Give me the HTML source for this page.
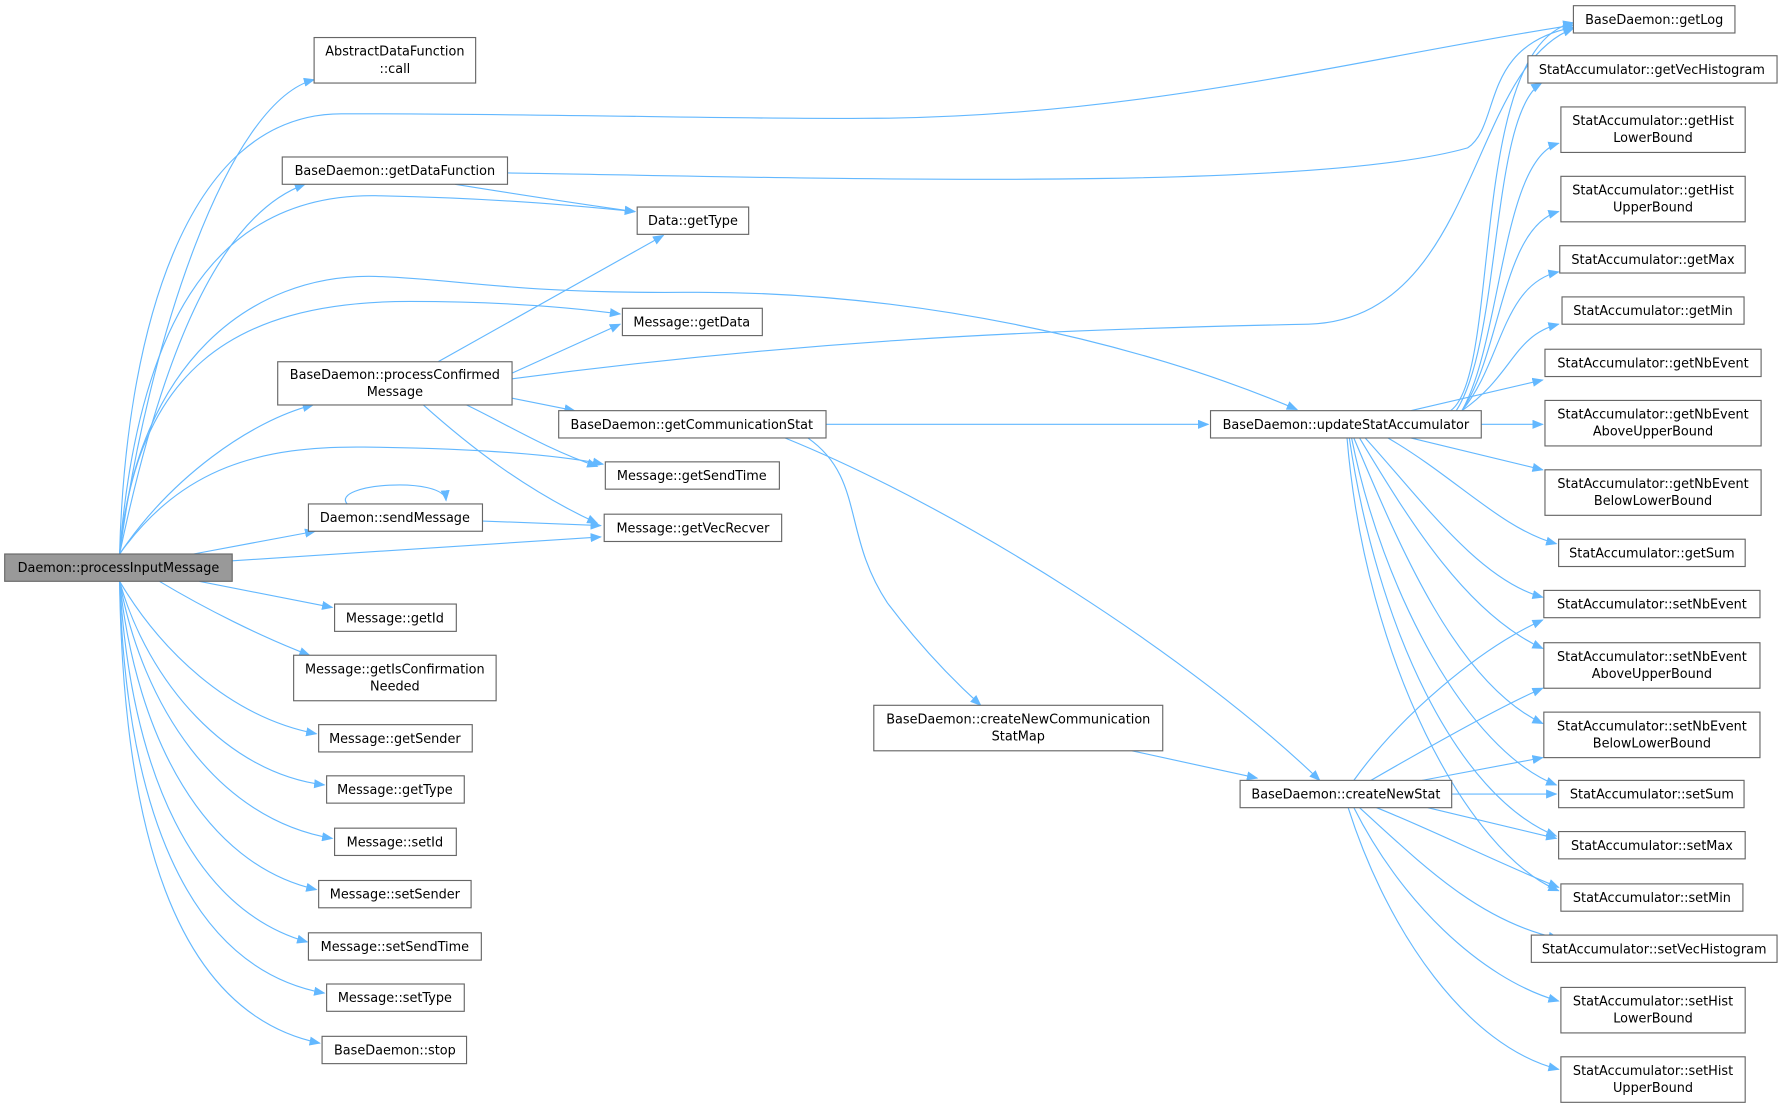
<!DOCTYPE html>
<html><head><meta charset="utf-8"><style>
html,body{margin:0;padding:0;background:#fff;}
svg{display:block;}
text{font-family:"DejaVu Sans","Liberation Sans",sans-serif;font-size:11.3px;fill:#000;text-anchor:middle;}
.n{fill:#fff;stroke:#666;stroke-width:1;}
.e{fill:none;stroke:#63b8ff;stroke-width:1;marker-end:url(#a);}
</style></head><body>
<svg width="1784" height="1108" viewBox="0 0 1568 974" xmlns="http://www.w3.org/2000/svg">
<defs><marker id="a" markerWidth="10" markerHeight="8" refX="9" refY="4" orient="auto" markerUnits="userSpaceOnUse"><path d="M0,0 L10,4 L0,8 z" fill="#63b8ff"/></marker></defs>
<g>
<path class="e" d="M105,487 C130,300 200,90 276,70"/>
<path class="e" d="M105,487 C110,300 160,100 300,100 C500,100 650,105 760,104 C1000,104 1200,50 1383,22"/>
<path class="e" d="M105,487 C140,320 190,190 268,162"/>
<path class="e" d="M105,487 C120,300 180,170 330,172 C430,174 500,180 558,186"/>
<path class="e" d="M105,487 C120,330 200,265 360,265 C440,265 500,270 545,276"/>
<path class="e" d="M105,487 C120,320 220,240 330,243 C400,245 450,258 600,257 C800,255 1000,300 1140,360"/>
<path class="e" d="M105,487 C150,420 220,370 275,356"/>
<path class="e" d="M105,487 C160,410 230,392 320,393 C420,394 490,400 530,408"/>
<path class="e" d="M170,487 L277,467"/>
<path class="e" d="M204,493 L528,472"/>
<path class="e" d="M175,511 L292,534"/>
<path class="e" d="M140,511 C180,535 230,560 272,576"/>
<path class="e" d="M105,511 C140,570 200,630 278,645"/>
<path class="e" d="M105,511 C130,600 200,680 285,690"/>
<path class="e" d="M105,511 C125,620 190,720 292,737"/>
<path class="e" d="M105,511 C120,650 180,760 278,782"/>
<path class="e" d="M105,511 C115,680 170,800 270,828"/>
<path class="e" d="M105,511 C110,700 160,850 285,873"/>
<path class="e" d="M105,511 C108,720 150,890 281,917"/>
<path class="e" d="M400,162 C450,170 500,178 558,186"/>
<path class="e" d="M446,152 C700,156 1150,170 1290,130 C1320,110 1300,40 1383,24"/>
<path class="e" d="M385,318 L583,207"/>
<path class="e" d="M450,328 L545,285"/>
<path class="e" d="M450,350 L505,361"/>
<path class="e" d="M410,356 C440,370 480,395 525,410"/>
<path class="e" d="M372,356 C410,390 460,430 525,460"/>
<path class="e" d="M450,333 C700,300 900,290 1150,285 C1300,280 1290,60 1383,25"/>
<path class="e" d="M305,443 C290,425 390,418 392,440"/>
<path class="e" d="M424,458 L528,462"/>
<path class="e" d="M726,373 L1062,373"/>
<path class="e" d="M710,385 C760,420 740,470 780,530 C810,570 840,600 862,620"/>
<path class="e" d="M690,385 C850,450 1050,580 1160,686"/>
<path class="e" d="M995,660 L1105,684"/>
<path class="e" d="M1275,361 C1320,330 1290,40 1383,20"/>
<path class="e" d="M1280,361 C1320,300 1310,100 1355,73"/>
<path class="e" d="M1285,361 C1320,300 1320,140 1370,126"/>
<path class="e" d="M1285,361 C1320,310 1320,200 1370,186"/>
<path class="e" d="M1285,361 C1320,320 1320,250 1370,239"/>
<path class="e" d="M1285,361 C1330,330 1330,295 1370,285"/>
<path class="e" d="M1240,361 L1356,334"/>
<path class="e" d="M1302,373 L1356,373"/>
<path class="e" d="M1240,385 L1356,413"/>
<path class="e" d="M1220,385 C1280,420 1320,465 1368,478"/>
<path class="e" d="M1200,385 C1250,440 1300,510 1356,525"/>
<path class="e" d="M1195,385 C1240,460 1290,540 1356,570"/>
<path class="e" d="M1190,385 C1230,480 1280,600 1356,636"/>
<path class="e" d="M1188,385 C1215,520 1290,660 1368,690"/>
<path class="e" d="M1186,385 C1210,550 1280,700 1368,735"/>
<path class="e" d="M1184,385 C1200,580 1290,750 1370,783"/>
<path class="e" d="M1190,686 C1230,630 1300,570 1356,545"/>
<path class="e" d="M1205,686 C1250,660 1320,620 1356,605"/>
<path class="e" d="M1250,686 L1356,666"/>
<path class="e" d="M1276,698 L1368,698"/>
<path class="e" d="M1255,710 L1368,737"/>
<path class="e" d="M1210,710 C1260,730 1320,760 1370,780"/>
<path class="e" d="M1195,710 C1250,760 1300,810 1370,825"/>
<path class="e" d="M1190,710 C1230,790 1300,860 1370,880"/>
<path class="e" d="M1185,710 C1220,820 1290,920 1370,940"/>
</g>
<g>
<rect x="4" y="487" width="200" height="24" fill="#999" stroke="#666"/><text x="104" y="503">Daemon::processInputMessage</text>
<rect class="n" x="276" y="33" width="142" height="40"/><text x="347" y="49">AbstractDataFunction</text><text x="347" y="64">::call</text>
<rect class="n" x="248" y="138" width="198" height="24"/><text x="347" y="154">BaseDaemon::getDataFunction</text>
<rect class="n" x="560" y="182" width="98" height="24"/><text x="609" y="198">Data::getType</text>
<rect class="n" x="547" y="271" width="123" height="24"/><text x="608" y="287">Message::getData</text>
<rect class="n" x="244" y="318" width="206" height="38"/><text x="347" y="333">BaseDaemon::processConfirmed</text><text x="347" y="348">Message</text>
<rect class="n" x="491" y="361" width="235" height="24"/><text x="608" y="377">BaseDaemon::getCommunicationStat</text>
<rect class="n" x="532" y="406" width="153" height="24"/><text x="608" y="422">Message::getSendTime</text>
<rect class="n" x="271" y="443" width="153" height="24"/><text x="347" y="459">Daemon::sendMessage</text>
<rect class="n" x="531" y="452" width="156" height="24"/><text x="609" y="468">Message::getVecRecver</text>
<rect class="n" x="294" y="531" width="107" height="24"/><text x="347" y="547">Message::getId</text>
<rect class="n" x="258" y="576" width="178" height="40"/><text x="347" y="592">Message::getIsConfirmation</text><text x="347" y="607">Needed</text>
<rect class="n" x="280" y="637" width="135" height="24"/><text x="347" y="653">Message::getSender</text>
<rect class="n" x="287" y="682" width="121" height="24"/><text x="347" y="698">Message::getType</text>
<rect class="n" x="294" y="728" width="107" height="24"/><text x="347" y="744">Message::setId</text>
<rect class="n" x="280" y="774" width="134" height="24"/><text x="347" y="790">Message::setSender</text>
<rect class="n" x="271" y="820" width="152" height="24"/><text x="347" y="836">Message::setSendTime</text>
<rect class="n" x="287" y="865" width="121" height="24"/><text x="347" y="881">Message::setType</text>
<rect class="n" x="283" y="911" width="127" height="24"/><text x="347" y="927">BaseDaemon::stop</text>
<rect class="n" x="768" y="620" width="254" height="40"/><text x="895" y="636">BaseDaemon::createNewCommunication</text><text x="895" y="651">StatMap</text>
<rect class="n" x="1064" y="361" width="238" height="24"/><text x="1183" y="377">BaseDaemon::updateStatAccumulator</text>
<rect class="n" x="1090" y="686" width="186" height="24"/><text x="1183" y="702">BaseDaemon::createNewStat</text>
<rect class="n" x="1383" y="5" width="142" height="24"/><text x="1454" y="21">BaseDaemon::getLog</text>
<rect class="n" x="1343" y="49" width="219" height="24"/><text x="1452" y="65">StatAccumulator::getVecHistogram</text>
<rect class="n" x="1372" y="94" width="162" height="40"/><text x="1453" y="110">StatAccumulator::getHist</text><text x="1453" y="125">LowerBound</text>
<rect class="n" x="1372" y="155" width="162" height="40"/><text x="1453" y="171">StatAccumulator::getHist</text><text x="1453" y="186">UpperBound</text>
<rect class="n" x="1371" y="216" width="163" height="24"/><text x="1453" y="232">StatAccumulator::getMax</text>
<rect class="n" x="1373" y="261" width="160" height="24"/><text x="1453" y="277">StatAccumulator::getMin</text>
<rect class="n" x="1358" y="307" width="190" height="24"/><text x="1453" y="323">StatAccumulator::getNbEvent</text>
<rect class="n" x="1358" y="352" width="190" height="40"/><text x="1453" y="368">StatAccumulator::getNbEvent</text><text x="1453" y="383">AboveUpperBound</text>
<rect class="n" x="1358" y="413" width="190" height="40"/><text x="1453" y="429">StatAccumulator::getNbEvent</text><text x="1453" y="444">BelowLowerBound</text>
<rect class="n" x="1370" y="474" width="164" height="24"/><text x="1452" y="490">StatAccumulator::getSum</text>
<rect class="n" x="1357" y="519" width="190" height="24"/><text x="1452" y="535">StatAccumulator::setNbEvent</text>
<rect class="n" x="1357" y="565" width="190" height="40"/><text x="1452" y="581">StatAccumulator::setNbEvent</text><text x="1452" y="596">AboveUpperBound</text>
<rect class="n" x="1357" y="626" width="190" height="40"/><text x="1452" y="642">StatAccumulator::setNbEvent</text><text x="1452" y="657">BelowLowerBound</text>
<rect class="n" x="1370" y="686" width="163" height="24"/><text x="1452" y="702">StatAccumulator::setSum</text>
<rect class="n" x="1370" y="731" width="164" height="24"/><text x="1452" y="747">StatAccumulator::setMax</text>
<rect class="n" x="1372" y="777" width="160" height="24"/><text x="1452" y="793">StatAccumulator::setMin</text>
<rect class="n" x="1346" y="822" width="216" height="24"/><text x="1454" y="838">StatAccumulator::setVecHistogram</text>
<rect class="n" x="1372" y="868" width="162" height="40"/><text x="1453" y="884">StatAccumulator::setHist</text><text x="1453" y="899">LowerBound</text>
<rect class="n" x="1372" y="929" width="162" height="40"/><text x="1453" y="945">StatAccumulator::setHist</text><text x="1453" y="960">UpperBound</text>
</g>
</svg>
</body></html>
